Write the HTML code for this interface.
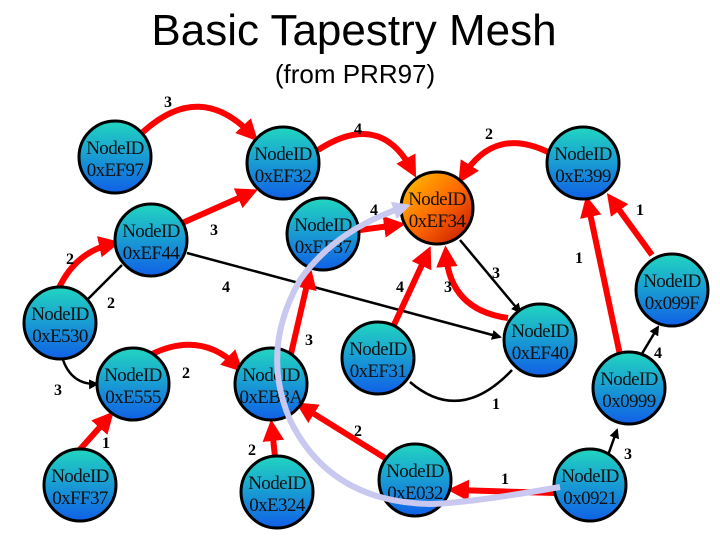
<!DOCTYPE html>
<html><head><meta charset="utf-8"><style>
body{margin:0;background:#fff}
svg{display:block}
.t{font-family:"Liberation Serif",serif;font-size:19px;fill:#111;text-anchor:middle;letter-spacing:-0.6px}
.l{font-family:"Liberation Serif",serif;font-size:16px;font-weight:bold;fill:#000;text-anchor:middle}
.r{stroke:#f00;stroke-width:6;fill:none;marker-end:url(#ar)}
.b{stroke:#000;stroke-width:2.5;fill:none;marker-end:url(#ab)}
.bn{stroke:#000;stroke-width:2.5;fill:none}
</style></head><body>
<svg width="720" height="540" xmlns="http://www.w3.org/2000/svg">
<defs>
<linearGradient id="g" x1="0" y1="0" x2="0" y2="1"><stop offset="0" stop-color="#22d6c0"/><stop offset="1" stop-color="#1060e6"/></linearGradient>
<linearGradient id="o" x1="0" y1="0" x2="1" y2="1"><stop offset="0" stop-color="#ffc800"/><stop offset="0.5" stop-color="#ff6a00"/><stop offset="1" stop-color="#c01000"/></linearGradient>
<marker id="ar" viewBox="0 0 10 10" refX="6" refY="5" markerWidth="3.6" markerHeight="3.6" orient="auto"><path d="M0,0L10,5L0,10z" fill="#f00"/></marker>
<marker id="ab" viewBox="0 0 10 10" refX="8" refY="5" markerWidth="4" markerHeight="4" orient="auto"><path d="M0,0L10,5L0,10z" fill="#000"/></marker>
<marker id="al" viewBox="0 0 10 10" refX="6" refY="5" markerWidth="3" markerHeight="3" orient="auto"><path d="M0,0L10,5L0,10z" fill="#c8c8f0"/></marker>
</defs>
<text x="354" y="45" font-family="Liberation Sans,sans-serif" font-size="44" text-anchor="middle">Basic Tapestry Mesh</text>
<text x="355" y="83" font-family="Liberation Sans,sans-serif" font-size="26" text-anchor="middle">(from PRR97)</text>

<path class="bn" d="M87,300L122,265"/>
<path class="b" d="M187,253L500,337"/>
<path class="b" d="M63,360Q72,385 97,384"/>
<path class="b" d="M460,240L520,312"/>
<path class="bn" d="M410,382Q460,425 512,370"/>
<path class="b" d="M607,458L617,430"/>
<path class="b" d="M640,357L658,327"/>

<path class="r" d="M143,132Q200,80 252,135"/>
<path class="r" d="M318,150Q380,110 412,170"/>
<path class="r" d="M550,153Q495,125 463,176"/>
<path class="r" d="M180,224L250,193"/>
<path class="r" d="M58,290Q75,252 112,244"/>
<path class="r" d="M150,355Q200,330 237,366"/>
<path class="r" d="M75,455L108,418"/>
<path class="r" d="M275,457L272,428"/>
<path class="r" d="M290,358L309,276"/>
<path class="r" d="M393,327L427,254"/>
<path class="r" d="M508,318Q450,310 446,254"/>
<path class="r" d="M360,230L397,225"/>
<path class="r" d="M385,458L303,407"/>
<path class="r" d="M555,493L456,490"/>
<path class="r" d="M620,355L588,204"/>
<path class="r" d="M652,255L612,200"/>

<g stroke="#000" stroke-width="3" fill="url(#g)">
<circle cx="115" cy="157" r="36"/>
<circle cx="283" cy="163" r="36"/>
<circle cx="151" cy="240" r="36"/>
<circle cx="323" cy="234" r="36"/>
<circle cx="437" cy="208" r="36" fill="url(#o)"/>
<circle cx="583" cy="163" r="36"/>
<circle cx="672" cy="290" r="36"/>
<circle cx="60" cy="323" r="36"/>
<circle cx="133" cy="384" r="36"/>
<circle cx="271" cy="384" r="36"/>
<circle cx="378" cy="358" r="36"/>
<circle cx="540" cy="340" r="36"/>
<circle cx="629" cy="388" r="36"/>
<circle cx="80" cy="485" r="36"/>
<circle cx="277" cy="492" r="36"/>
<circle cx="415" cy="480" r="36"/>
<circle cx="590" cy="485" r="36"/>
</g>
<g>
<text class="t" x="115" y="154">NodeID</text><text class="t" x="115" y="176">0xEF97</text>
<text class="t" x="283" y="160">NodeID</text><text class="t" x="283" y="182">0xEF32</text>
<text class="t" x="151" y="237">NodeID</text><text class="t" x="151" y="259">0xEF44</text>
<text class="t" x="323" y="231">NodeID</text><text class="t" x="323" y="253">0xEF37</text>
<text class="t" x="437" y="205">NodeID</text><text class="t" x="437" y="227">0xEF34</text>
<text class="t" x="583" y="160">NodeID</text><text class="t" x="583" y="182">0xE399</text>
<text class="t" x="672" y="287">NodeID</text><text class="t" x="672" y="309">0x099F</text>
<text class="t" x="60" y="320">NodeID</text><text class="t" x="60" y="342">0xE530</text>
<text class="t" x="133" y="381">NodeID</text><text class="t" x="133" y="403">0xE555</text>
<text class="t" x="271" y="381">NodeID</text><text class="t" x="271" y="403">0xEB3A</text>
<text class="t" x="378" y="355">NodeID</text><text class="t" x="378" y="377">0xEF31</text>
<text class="t" x="540" y="337">NodeID</text><text class="t" x="540" y="359">0xEF40</text>
<text class="t" x="629" y="385">NodeID</text><text class="t" x="629" y="407">0x0999</text>
<text class="t" x="80" y="482">NodeID</text><text class="t" x="80" y="504">0xFF37</text>
<text class="t" x="277" y="489">NodeID</text><text class="t" x="277" y="511">0xE324</text>
<text class="t" x="415" y="477">NodeID</text><text class="t" x="415" y="499">0xE032</text>
<text class="t" x="590" y="482">NodeID</text><text class="t" x="590" y="504">0x0921</text>
</g>

<path d="M560,487Q470,503 430,504Q330,502 290,420Q260,350 300,280Q335,230 404,207" stroke="#c8c8f0" stroke-width="6" fill="none" marker-end="url(#al)"/>

<g>
<text class="l" x="168" y="107">3</text>
<text class="l" x="358" y="134">4</text>
<text class="l" x="489" y="139">2</text>
<text class="l" x="214" y="235">3</text>
<text class="l" x="70" y="264">2</text>
<text class="l" x="111" y="308">2</text>
<text class="l" x="226" y="292">4</text>
<text class="l" x="58" y="395">3</text>
<text class="l" x="186" y="378">2</text>
<text class="l" x="106" y="448">1</text>
<text class="l" x="252" y="455">2</text>
<text class="l" x="309" y="345">3</text>
<text class="l" x="400" y="292">4</text>
<text class="l" x="448" y="292">3</text>
<text class="l" x="496" y="278">3</text>
<text class="l" x="374" y="215">4</text>
<text class="l" x="496" y="409">1</text>
<text class="l" x="358" y="436">2</text>
<text class="l" x="505" y="484">1</text>
<text class="l" x="628" y="459">3</text>
<text class="l" x="658" y="358">4</text>
<text class="l" x="579" y="263">1</text>
<text class="l" x="640" y="215">1</text>
</g>
</svg>
</body></html>
